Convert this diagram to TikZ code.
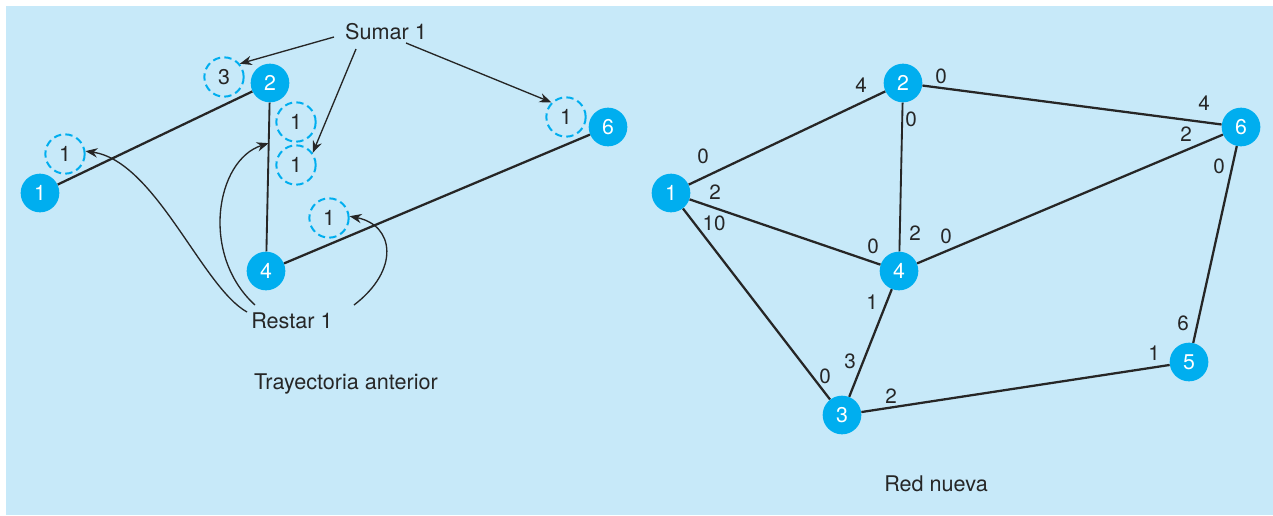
\documentclass[tikz,border=0pt]{standalone}
\usepackage{fontspec}
\setmainfont{TeX Gyre Heros}
\usetikzlibrary{calc,arrows.meta}
\definecolor{panel}{HTML}{C7E9F9}
\definecolor{cyanv}{HTML}{00AEEF}
\begin{document}
\begin{tikzpicture}[
  x=0.75pt, y=-0.75pt,
  vert/.style={circle, fill=cyanv, minimum size=29pt, inner sep=0pt,
               text=white, font=\fontsize{16}{18}\selectfont},
  dcirc/.style={circle, draw=cyanv, line width=1.5pt, dash pattern=on 5.5pt off 3.2pt,
                minimum size=29.5pt, inner sep=0pt, font=\fontsize{16}{18}\selectfont, text=black!85},
  edge/.style={line width=1.7pt, black!85},
  arr/.style={-{Stealth[length=9pt,width=7pt]}, line width=1pt, black!85},
  lbl/.style={font=\fontsize{15.5}{17}\selectfont, text=black!85, inner sep=1pt},
  txt/.style={font=\fontsize{16.2}{18}\selectfont, text=black!85}
]
% background
\useasboundingbox (0,0) rectangle (1273,515);
\fill[white] (0,0) rectangle (1273,515);
\fill[panel] (6,6) rectangle (1273,515);

% ---- Trayectoria anterior (left) ----
\node[vert] (L1) at (40,193)  {1};
\node[vert] (L2) at (270,83)  {2};
\node[vert] (L4) at (266,271) {4};
\node[vert] (L6) at (608,127) {6};

\draw[edge] (L1) -- (L2);
\draw[edge, line width=1.4pt] (L2) -- (L4);
\draw[edge] (L4) -- (L6);
\coordinate (e24) at ($(L2)!0.32!(L4)$);

% dashed marks
\node[dcirc] (d3)  at (224,77)  {3};
\node[dcirc] (d1a) at (65,154)  {1};
\node[dcirc] (d1b) at (296,122) {1};
\node[dcirc] (d1c) at (296,165) {1};
\node[dcirc] (d1d) at (329,218) {1};
\node[dcirc] (d1e) at (566,117) {1};

\node[txt] (sumar)  at (386,32)  {Sumar 1};
\node[txt] (restar) at (292,321) {Restar 1};
\node[txt] (tray)   at (346,384) {Trayectoria anterior};

% Sumar 1 arrows
\draw[arr] ([shift={(-52,5)}]sumar.center) -- (d3.40);
\draw[arr] ([shift={(-30,17)}]sumar.center) -- (d1c.36);
\draw[arr] ([shift={(20,11)}]sumar.center) -- (d1e.135);

% Restar 1 arrows
\draw[arr] ([shift={(-45,-9)}]restar.center) .. controls +(-45,-25) and +(70,10) .. (d1a.8);
\draw[arr] ([shift={(-37,-16)}]restar.center) .. controls +(-55,-50) and +(-53,17) .. (e24);
\draw[arr] ([shift={(62,-16)}]restar.center) .. controls +(46,-35) and +(45,9) .. (d1d.5);

% ---- Red nueva (right) ----
\node[vert] (R1) at (671,193) {1};
\node[vert] (R2) at (903,83)  {2};
\node[vert] (R3) at (842,415) {3};
\node[vert] (R4) at (899,271) {4};
\node[vert] (R5) at (1189,362) {5};
\node[vert] (R6) at (1241,127) {6};

\draw[edge] (R1) -- (R2);
\draw[edge] (R1) -- (R4);
\draw[edge] (R1) -- (R3);
\draw[edge, line width=1.4pt] (R2) -- (R4);
\draw[edge] (R2) -- (R6);
\draw[edge] (R4) -- (R6);
\draw[edge] (R4) -- (R3);
\draw[edge] (R3) -- (R5);
\draw[edge] (R5) -- (R6);

% residual capacities
\foreach \n/\x/\y/\t in {a/861/85/4, b/941/76/0, c/911/119/0, d/703/156/0,
    e/715/192/2, f/714/223/10, g/873/246/0, h/915/233/2, i/946/236/0,
    j/1204/103/4, k/1186/134/2, l/1219/166/0, m/1183/323/6, n/1154/353/1,
    o/872/302/1, p/850/361/3, q/825/376/0, r/891/396/2}
  \node[lbl] (w\n) at (\x,\y) {\t};

\node[txt] (red) at (936,484) {Red nueva};
\end{tikzpicture}
\end{document}
